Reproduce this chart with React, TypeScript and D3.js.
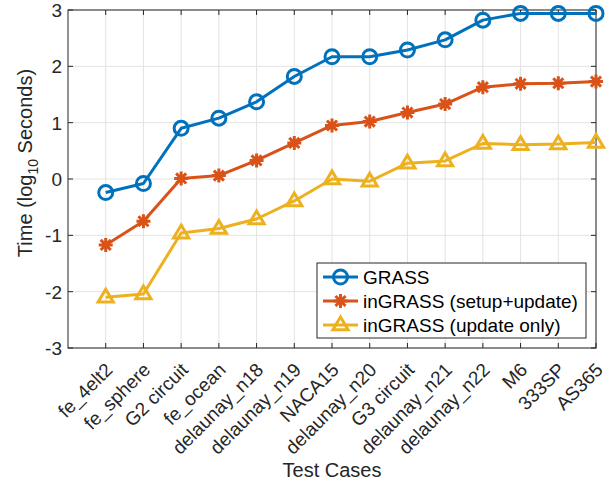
import React from "react";
import * as d3 from "d3";

const categories = ["fe_4elt2", "fe_sphere", "G2 circuit", "fe_ocean", "delaunay_n18", "delaunay_n19", "NACA15", "delaunay_n20", "G3 circuit", "delaunay_n21", "delaunay_n22", "M6", "333SP", "AS365"];
const grass = [-0.24, -0.08, 0.9, 1.08, 1.37, 1.82, 2.17, 2.17, 2.29, 2.47, 2.82, 2.94, 2.94, 2.94];
const ingrassSetup = [-1.17, -0.75, 0.01, 0.06, 0.33, 0.64, 0.95, 1.02, 1.18, 1.33, 1.63, 1.69, 1.70, 1.73];
const ingrassUpdate = [-2.10, -2.04, -0.96, -0.88, -0.71, -0.39, 0.0, -0.04, 0.28, 0.32, 0.63, 0.61, 0.62, 0.65];
const yTicks = [-3, -2, -1, 0, 1, 2, 3];
const seriesNames = ["GRASS", "inGRASS (setup+update)", "inGRASS (update only)"];

const W = 607, H = 485;
const M = { left: 68, top: 10, right: 596, bottom: 348 };
const colors = ["#0072BD", "#D95319", "#EDB120"];
const font = "'Liberation Sans', Arial, Helvetica, sans-serif";

function Marker({ kind, x, y, color }: { kind: number; x: number; y: number; color: string }) {
  if (kind === 0) {
    return <circle cx={x} cy={y} r={7} fill="none" stroke={color} strokeWidth={3} />;
  }
  if (kind === 1) {
    const r = 7, d = r * 0.72;
    const p = `M${x - r},${y}L${x + r},${y}M${x},${y - r}L${x},${y + r}M${x - d},${y - d}L${x + d},${y + d}M${x - d},${y + d}L${x + d},${y - d}`;
    return <path d={p} stroke={color} strokeWidth={3} fill="none" />;
  }
  const r = 8;
  const p = `M${x},${y - r}L${x + r * 0.95},${y + r * 0.6}L${x - r * 0.95},${y + r * 0.6}Z`;
  return <path d={p} stroke={color} strokeWidth={3} fill="none" strokeLinejoin="miter" />;
}

export default function App() {
  const x = d3.scaleLinear().domain([0, 14]).range([M.left, M.right]);
  const y = d3.scaleLinear().domain([-3, 3]).range([M.bottom, M.top]);
  const series = [grass, ingrassSetup, ingrassUpdate];
  const line = d3.line<number>().x((_, i) => x(i + 1)).y((d) => y(d));
  const axisColor = "#262626";
  const gridColor = "#e3e3e3";
  const idx = categories.map((_, i) => i + 1);

  const legX = 317, legY = 263, legW = 269, legH = 75;

  return (
    <svg width={W} height={H} style={{ position: "absolute", left: 0, top: 0, background: "#fff" }} fontFamily={font}>
      <rect x={0} y={0} width={W} height={H} fill="#fff" />
      {/* grid */}
      {idx.map((i) => (
        <line key={"gx" + i} x1={x(i)} x2={x(i)} y1={M.top} y2={M.bottom} stroke={gridColor} strokeWidth={1} />
      ))}
      {yTicks.map((t) => (
        <line key={"gy" + t} x1={M.left} x2={M.right} y1={y(t)} y2={y(t)} stroke={gridColor} strokeWidth={1} />
      ))}
      {/* box */}
      <rect x={M.left} y={M.top} width={M.right - M.left} height={M.bottom - M.top} fill="none" stroke={axisColor} strokeWidth={1} />
      {/* ticks */}
      {idx.map((i) => (
        <g key={"tx" + i}>
          <line x1={x(i)} x2={x(i)} y1={M.bottom} y2={M.bottom - 5} stroke={axisColor} />
          <line x1={x(i)} x2={x(i)} y1={M.top} y2={M.top + 5} stroke={axisColor} />
        </g>
      ))}
      {yTicks.map((t) => (
        <g key={"ty" + t}>
          <line x1={M.left} x2={M.left + 5} y1={y(t)} y2={y(t)} stroke={axisColor} />
          <line x1={M.right} x2={M.right - 5} y1={y(t)} y2={y(t)} stroke={axisColor} />
          <text x={62} y={y(t)} dy="0.36em" textAnchor="end" fontSize={19} fill={axisColor}>{t}</text>
        </g>
      ))}
      {/* x labels */}
      {categories.map((c, i) => (
        <text key={c} transform={`translate(${x(i + 1) + 8},${371}) rotate(-45)`} textAnchor="end" fontSize={19} fill={axisColor}>{c}</text>
      ))}
      {/* titles */}
      <text x={332} y={477} textAnchor="middle" fontSize={20} fill={axisColor}>Test Cases</text>
      <text transform={`translate(32,163) rotate(-90)`} textAnchor="middle" fontSize={20} fill={axisColor}>
        Time (log<tspan fontSize={14} dy="6">10</tspan><tspan dy="-6"> Seconds)</tspan>
      </text>
      {/* series */}
      {series.map((s, k) => (
        <g key={"s" + k}>
          <path d={line(s) || ""} fill="none" stroke={colors[k]} strokeWidth={3} strokeLinejoin="round" />
          {s.map((v, i) => (
            <Marker key={i} kind={k} x={x(i + 1)} y={y(v)} color={colors[k]} />
          ))}
        </g>
      ))}
      {/* legend */}
      <rect x={legX} y={legY} width={legW} height={legH} fill="#fff" stroke={axisColor} strokeWidth={1} />
      {seriesNames.map((n, k) => {
        const ly = legY + 14 + k * 24;
        return (
          <g key={n}>
            <line x1={legX + 6} x2={legX + 41} y1={ly} y2={ly} stroke={colors[k]} strokeWidth={3} />
            <Marker kind={k} x={legX + 23.5} y={ly} color={colors[k]} />
            <text x={legX + 46} y={ly} dy="0.36em" fontSize={19} fill="#000">{n}</text>
          </g>
        );
      })}
    </svg>
  );
}
